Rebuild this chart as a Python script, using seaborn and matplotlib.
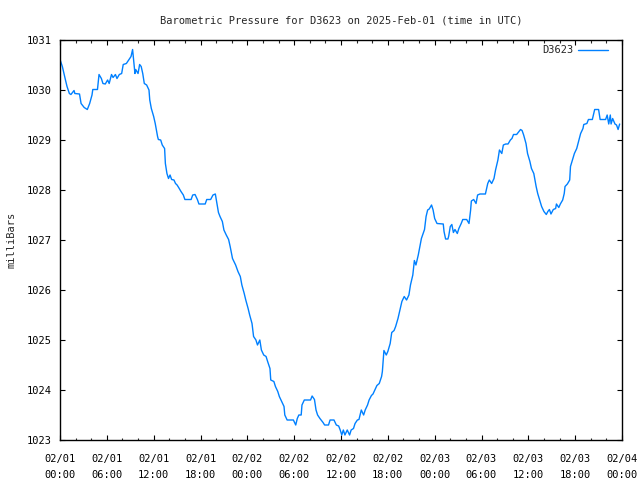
import matplotlib
matplotlib.use('Agg')
import matplotlib.pyplot as plt
import matplotlib.dates as mdates
import pandas as pd
import seaborn as sns

# Hours after 2025-02-01 00:00 UTC and pressure readings (mbar)
hours = [
    0.0, 0.3, 0.5, 0.7, 0.9, 1.2, 1.4, 1.8, 1.9, 2.5, 2.7, 3.1, 3.5, 3.8, 4.1, 4.2,
    4.8, 5.0, 5.3, 5.5, 5.8, 6.1, 6.3, 6.6, 6.8, 7.1, 7.3, 7.6, 7.9, 8.1, 8.5, 8.8,
    9.1, 9.3, 9.6, 9.7, 10.0, 10.2, 10.4, 10.6, 10.8, 11.1, 11.4, 11.5, 11.7, 12.0,
    12.2, 12.5, 12.6, 12.9, 13.1, 13.4, 13.5, 13.7, 13.9, 14.1, 14.3, 14.6, 14.8,
    15.0, 15.2, 15.5, 15.8, 16.0, 16.8, 17.0, 17.3, 17.6, 17.8, 18.6, 18.8, 19.3,
    19.6, 19.9, 20.1, 20.3, 20.5, 20.8, 21.0, 21.3, 21.6, 21.8, 22.1, 22.5, 22.8,
    23.1, 23.3, 23.6, 23.8, 24.1, 24.3, 24.6, 24.8, 25.1, 25.3, 25.6, 25.8, 26.1,
    26.4, 26.6, 26.9, 27.0, 27.4, 27.6, 27.9, 28.1, 28.4, 28.7, 28.8, 29.1, 29.9,
    30.2, 30.4, 30.6, 30.9, 31.0, 31.3, 32.1, 32.3, 32.6, 32.8, 33.0, 33.3, 33.7,
    33.9, 34.4, 34.6, 35.1, 35.4, 35.7, 35.9, 36.1, 36.3, 36.5, 36.8, 37.1, 37.3,
    37.6, 37.8, 38.1, 38.3, 38.6, 38.9, 39.1, 39.4, 39.6, 39.9, 40.1, 40.4, 40.6,
    40.9, 41.2, 41.3, 41.5, 41.8, 42.0, 42.3, 42.5, 42.8, 43.0, 43.3, 43.6, 43.8,
    44.1, 44.4, 44.7, 44.9, 45.2, 45.4, 45.6, 45.9, 46.1, 46.3, 46.5, 46.7, 46.9,
    47.1, 47.3, 47.6, 47.8, 48.0, 48.3, 49.1, 49.2, 49.4, 49.7, 49.8, 50.0, 50.2,
    50.4, 50.6, 50.9, 51.1, 51.4, 51.6, 52.1, 52.4, 52.6, 52.7, 53.0, 53.3, 53.5,
    53.8, 54.5, 54.8, 55.0, 55.3, 55.6, 55.8, 56.1, 56.3, 56.6, 56.8, 57.1, 57.4,
    57.7, 57.9, 58.1, 58.5, 58.8, 59.0, 59.2, 59.4, 59.7, 59.9, 60.2, 60.4, 60.7,
    61.0, 61.2, 61.5, 61.7, 62.0, 62.3, 62.5, 62.7, 62.9, 63.2, 63.5, 63.6, 63.9,
    64.1, 64.4, 64.6, 64.7, 65.0, 65.3, 65.4, 65.7, 65.9, 66.2, 66.5, 66.7, 67.0,
    67.1, 67.5, 67.7, 68.2, 68.5, 69.0, 69.2, 69.9, 70.1, 70.3, 70.5, 70.6, 70.8,
    71.1, 71.3, 71.5, 71.7,
]
pressure = [
    1030.61, 1030.47, 1030.33, 1030.20, 1030.07, 1029.93, 1029.91, 1029.99, 1029.93,
    1029.92, 1029.73, 1029.65, 1029.61, 1029.73, 1029.90, 1030.01, 1030.01, 1030.31,
    1030.23, 1030.13, 1030.12, 1030.20, 1030.13, 1030.31, 1030.25, 1030.31, 1030.23,
    1030.31, 1030.33, 1030.51, 1030.53, 1030.60, 1030.67, 1030.81, 1030.33, 1030.41,
    1030.33, 1030.51, 1030.47, 1030.33, 1030.13, 1030.10, 1030.00, 1029.80, 1029.63,
    1029.47, 1029.33, 1029.07, 1029.01, 1029.00, 1028.90, 1028.83, 1028.53, 1028.33,
    1028.23, 1028.30, 1028.21, 1028.20, 1028.13, 1028.10, 1028.05, 1027.97, 1027.90,
    1027.81, 1027.81, 1027.90, 1027.91, 1027.81, 1027.72, 1027.72, 1027.81, 1027.81,
    1027.90, 1027.92, 1027.73, 1027.55, 1027.47, 1027.37, 1027.20, 1027.10, 1027.01,
    1026.87, 1026.63, 1026.50, 1026.37, 1026.27, 1026.10, 1025.93, 1025.80, 1025.63,
    1025.50, 1025.33, 1025.07, 1025.00, 1024.90, 1025.00, 1024.80, 1024.70, 1024.67,
    1024.57, 1024.43, 1024.20, 1024.17, 1024.07, 1023.97, 1023.87, 1023.77, 1023.67,
    1023.50, 1023.40, 1023.40, 1023.30, 1023.43, 1023.50, 1023.50, 1023.70, 1023.80,
    1023.80, 1023.88, 1023.81, 1023.60, 1023.50, 1023.43, 1023.35, 1023.30, 1023.30,
    1023.40, 1023.40, 1023.30, 1023.28, 1023.20, 1023.10, 1023.20, 1023.10, 1023.20,
    1023.10, 1023.20, 1023.23, 1023.33, 1023.40, 1023.41, 1023.60, 1023.50, 1023.60,
    1023.70, 1023.80, 1023.89, 1023.92, 1024.02, 1024.09, 1024.13, 1024.27, 1024.37,
    1024.79, 1024.70, 1024.77, 1024.93, 1025.15, 1025.19, 1025.27, 1025.43, 1025.63,
    1025.77, 1025.87, 1025.80, 1025.90, 1026.10, 1026.30, 1026.59, 1026.50, 1026.70,
    1026.87, 1027.03, 1027.12, 1027.21, 1027.47, 1027.60, 1027.62, 1027.70, 1027.60,
    1027.43, 1027.33, 1027.32, 1027.17, 1027.02, 1027.02, 1027.08, 1027.27, 1027.31,
    1027.15, 1027.21, 1027.13, 1027.23, 1027.33, 1027.41, 1027.41, 1027.33, 1027.59,
    1027.78, 1027.81, 1027.73, 1027.90, 1027.92, 1027.92, 1028.13, 1028.20, 1028.13,
    1028.23, 1028.40, 1028.60, 1028.80, 1028.73, 1028.90, 1028.92, 1028.92, 1029.00,
    1029.03, 1029.11, 1029.11, 1029.17, 1029.21, 1029.19, 1029.10, 1028.93, 1028.73,
    1028.57, 1028.43, 1028.33, 1028.07, 1027.93, 1027.77, 1027.67, 1027.57, 1027.51,
    1027.57, 1027.61, 1027.52, 1027.61, 1027.63, 1027.72, 1027.65, 1027.72, 1027.80,
    1027.93, 1028.07, 1028.12, 1028.20, 1028.47, 1028.63, 1028.73, 1028.83, 1029.01,
    1029.13, 1029.23, 1029.31, 1029.33, 1029.41, 1029.41, 1029.61, 1029.61, 1029.41,
    1029.41, 1029.50, 1029.32, 1029.50, 1029.32, 1029.43, 1029.32, 1029.30, 1029.21,
    1029.32,
]

start = pd.Timestamp('2025-02-01 00:00')
df = pd.DataFrame({
    'time': start + pd.to_timedelta(hours, unit='h'),
    'pressure': pressure,
    'station': 'D3623',
})

sns.set_style('ticks')
plt.rcParams['font.family'] = ['DejaVu Sans Mono']
plt.rcParams['font.size'] = 7.5

fig = plt.figure(figsize=(6.4, 4.8), dpi=100)
ax = fig.add_axes([60 / 640, 40 / 480, 562 / 640, 400 / 480])

sns.lineplot(data=df, x='time', y='pressure', hue='station',
             palette=['#0080ff'], linewidth=1.0, ax=ax)

ax.set_xlim(start, start + pd.Timedelta(hours=72))
ax.set_ylim(1023, 1031)
ax.set_yticks(range(1023, 1032))

ax.xaxis.set_major_locator(mdates.HourLocator(byhour=[0, 6, 12, 18]))
ax.xaxis.set_minor_locator(mdates.HourLocator(byhour=range(0, 24, 2)))
ax.xaxis.set_major_formatter(mdates.DateFormatter('%m/%d\n%H:%M'))

for side in ['top', 'right', 'left', 'bottom']:
    ax.spines[side].set_visible(True)
    ax.spines[side].set_linewidth(1.0)
    ax.spines[side].set_color('black')

ax.tick_params(which='major', direction='in', length=3.5, width=0.8,
               top=True, right=True, labelsize=7.5, colors='black')
ax.tick_params(which='minor', direction='in', length=1.8, width=0.8,
               top=True, right=True)
ax.tick_params(axis='x', which='major', pad=10)
ax.tick_params(axis='y', which='major', pad=6)
for lbl in ax.get_xticklabels():
    lbl.set_linespacing(1.75)

ax.set_xlabel('')
ax.set_ylabel('milliBars', fontsize=7.5)
ax.yaxis.set_label_coords(-0.077, 0.5)
ax.set_title('Barometric Pressure for D3623 on 2025-Feb-01 (time in UTC)',
             fontsize=7.5, pad=12)

leg = ax.legend(loc='upper right', frameon=False, markerfirst=False,
                handlelength=2.9, handletextpad=0.4, borderaxespad=0.2,
                borderpad=0.3, fontsize=7.5, bbox_to_anchor=(0.985, 1.0))
leg.set_title(None)

fig.savefig('out.png', dpi=100, facecolor='white')
